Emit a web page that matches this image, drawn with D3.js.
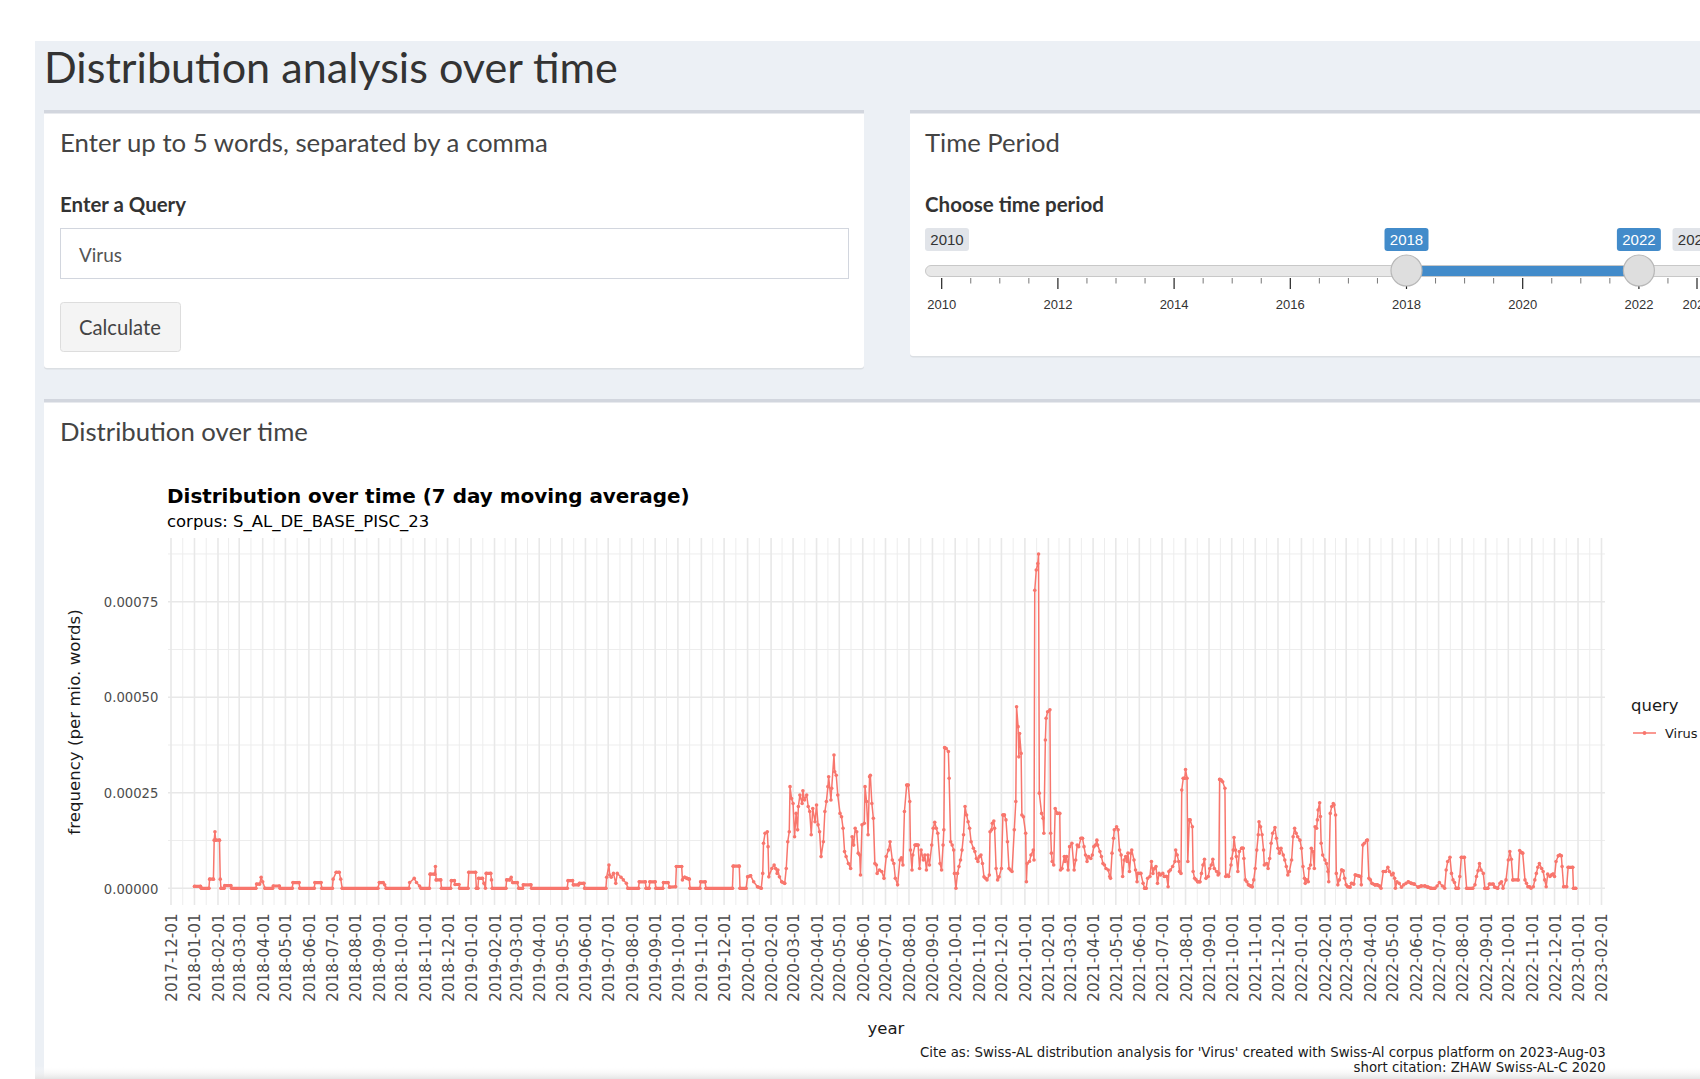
<!DOCTYPE html>
<html>
<head>
<meta charset="utf-8">
<script src="https://cdn.jsdelivr.net/npm/d3@7"></script>
<style>
    html, body { margin: 0; padding: 0; background: #fff; overflow: hidden; }
    svg { display: block; }
</style>
</head>
<body>
<svg id="page" width="1700" height="1079"></svg>
<script>
// ---- data ----
const queryWords = ["Virus"];
const sliderRange = [2010, 2023];
const sliderSelected = [2018, 2022];
const sliderLabelYears = [2010, 2012, 2014, 2016, 2018, 2020, 2022, 2023];
const yTicks = [0, 0.00025, 0.0005, 0.00075];
const yMinorTicks = [0.000125, 0.000375, 0.000625, 0.000875];
const xBreakRange = ["2017-12-01", "2023-02-01"];
const FREQ_UNIT = 1e-5; // series values below are in units of 1e-5

// 7 day moving average of "Virus", [MM-DD, value]
const virus2018 = [
    ["01-01",0.5],["01-09",0.5],["01-10",0],["01-20",0],["01-21",2.4],["01-26",2.4],["01-27",12.6],["01-28",14.8],
    ["01-29",12.6],["02-03",12.6],["02-04",2.4],["02-05",0],["02-09",0],["02-10",0.7],["02-18",0.7],["02-19",0],
    ["03-23",0],["03-24",1.1],["03-28",1.1],["03-30",2.9],["04-01",1.7],["04-04",0],["04-14",0],["04-15",0.6],
    ["04-23",0.6],["04-24",0],["05-10",0],["05-11",1.5],["05-19",1.5],["05-20",0],["06-08",0],["06-09",1.5],
    ["06-17",1.5],["06-18",0],["07-02",0],["07-03",2.4],["07-07",4.2],["07-11",4.2],["07-13",2.4],["07-15",0],
    ["08-31",0],["09-02",1.5],["09-07",1.5],["09-09",0.9],["09-11",0],["10-11",0],["10-12",1.5],["10-18",2.6],
    ["10-21",1.5],["10-25",0.6],["10-27",0],["11-07",0],["11-08",3.7],["11-14",3.7],["11-15",5.7],["11-16",2.2],
    ["11-22",2.2],["11-23",0],["12-05",0],["12-06",2.0],["12-10",2.0],["12-11",1.0],["12-16",1.0],["12-17",0],
    ["12-28",0],["12-29",4.2]
];
const virus2019 = [
    ["01-07",4.2],["01-08",0],["01-10",0],["01-11",2.6],["01-16",2.6],["01-18",1.3],["01-20",0],["01-21",3.9],
    ["01-27",3.9],["01-28",2.2],["01-29",0],["02-16",0],["02-17",2.2],["02-21",2.2],["02-23",2.9],["02-25",1.5],
    ["03-03",1.5],["03-05",0],["03-10",0],["03-11",0.9],["03-21",0.9],["03-22",0],["05-08",0],["05-09",2.0],
    ["05-15",2.0],["05-16",0.9],["05-23",0.9],["05-24",1.3],["05-30",1.3],["05-31",0],["06-28",0],["06-29",2.9],
    ["07-02",6.1],["07-03",3.5],["07-05",2.9],["07-08",3.9],["07-11",1.3],["07-13",3.9],["07-18",2.9],["07-21",2.2],
    ["07-25",1.3],["07-27",0],["08-10",0],["08-11",1.7],["08-19",1.7],["08-20",0],["08-24",0],["08-25",1.7],
    ["09-01",1.7],["09-02",0],["09-11",0],["09-12",1.5],["09-18",1.5],["09-20",0.3],["09-28",0.4],["09-29",5.7],
    ["10-06",5.7],["10-07",2.2],["10-10",2.9],["10-13",2.6],["10-16",2.4],["10-17",0],["10-30",0],["10-31",1.7],
    ["11-06",1.7],["11-07",0],["12-12",0],["12-13",5.8],["12-21",5.8],["12-22",0],["12-30",0]
];
const virus2020 = [
    ["01-01",3.0],["01-05",3.3],["01-09",1.7],["01-14",0.4],["01-19",0],["01-21",3.9],["01-22",11.8],["01-24",14.4],
    ["01-27",14.8],["01-28",10.9],["01-29",3.0],["02-02",5.2],["02-05",6.1],["02-07",5.2],["02-09",3.9],["02-10",4.8],
    ["02-12",3.0],["02-15",1.7],["02-19",1.3],["02-21",5.2],["02-23",12.2],["02-25",14.8],["02-26",26.6],["02-28",23.5],
    ["03-01",22.2],["03-03",13.5],["03-05",19.6],["03-07",15.3],["03-08",21.4],["03-10",24.4],["03-13",22.2],["03-14",25.5],
    ["03-16",23.1],["03-19",24.4],["03-21",21.4],["03-23",20.1],["03-25",14.0],["03-27",20.9],["03-30",17.4],["04-01",21.8],
    ["04-03",16.6],["04-05",14.8],["04-07",8.3],["04-10",12.2],["04-12",20.1],["04-14",22.7],["04-16",26.6],["04-17",29.2],
    ["04-20",23.1],["04-21",26.2],["04-24",34.9],["04-25",30.5],["04-27",29.6],["04-29",24.4],["05-02",19.6],["05-04",18.7],
    ["05-06",15.7],["05-08",9.6],["05-10",8.3],["05-13",6.5],["05-16",5.2],["05-18",13.5],["05-20",11.3],["05-22",15.7],
    ["05-24",14.8],["05-26",9.2],["05-28",8.7],["05-29",3.5],["05-31",16.6],["06-03",17.0],["06-04",26.6],["06-06",22.7],
    ["06-08",14.0],["06-10",29.2],["06-11",29.6],["06-13",22.2],["06-15",18.3],["06-17",6.5],["06-19",6.1],["06-20",3.9],
    ["06-23",4.8],["06-26",4.4],["06-29",2.6],["07-02",8.3],["07-05",10.0],["07-07",12.2],["07-10",7.4],["07-12",6.5],
    ["07-14",2.6],["07-17",0.9],["07-20",7.4],["07-22",8.0],["07-24",6.1],["07-26",20.1],["07-29",27.0],["07-31",27.0],
    ["08-02",22.7],["08-03",10.0],["08-05",4.8],["08-06",8.7],["08-09",11.3],["08-11",11.3],["08-13",11.3],["08-15",5.2],
    ["08-17",10.0],["08-20",7.4],["08-22",8.7],["08-24",4.8],["08-26",8.7],["08-28",6.1],["08-31",11.3],["09-02",15.7],
    ["09-04",17.3],["09-06",15.7],["09-08",14.4],["09-11",6.5],["09-13",4.8],["09-15",11.3],["09-16",15.3],["09-17",36.8],
    ["09-19",36.6],["09-22",35.8],["09-23",28.8],["09-25",12.2],["09-27",11.3],["09-29",10.0],["09-30",3.9],["10-02",0],
    ["10-04",3.9],["10-06",5.7],["10-08",7.4],["10-10",10.0],["10-12",14.0],["10-14",21.4],["10-16",19.2],["10-18",17.4],
    ["10-20",15.7],["10-22",12.2],["10-25",10.5],["10-27",9.6],["10-29",7.8],["10-31",7.0],["11-02",8.3],["11-04",8.7],
    ["11-06",6.5],["11-08",3.0],["11-10",2.6],["11-12",2.2],["11-15",3.5],["11-16",14.8],["11-18",15.3],["11-19",17.0],
    ["11-21",17.6],["11-22",15.7],["11-24",5.2],["11-26",2.2],["11-28",3.0],["12-01",5.2],["12-03",19.2],["12-05",19.2],
    ["12-07",17.9],["12-09",12.2],["12-11",5.2],["12-13",4.8],["12-15",4.4],["12-18",15.3],["12-20",22.7],["12-21",47.5],
    ["12-23",42.3],["12-24",34.4],["12-25",40.5],["12-27",35.3],["12-28",19.2],["12-30",18.7]
];
const virus2021 = [
    ["01-02",14.4],["01-03",1.7],["01-04",6.5],["01-07",7.0],["01-09",8.7],["01-12",10.0],["01-13",7.4],["01-14",78.0],
    ["01-16",83.3],["01-18",85.0],["01-19",87.5],["01-20",24.9],["01-23",19.6],["01-25",18.3],["01-26",14.4],["01-28",38.8],
    ["01-29",44.5],["01-31",46.2],["02-03",46.7],["02-04",14.4],["02-05",9.2],["02-06",7.0],["02-08",6.1],["02-10",20.9],
    ["02-13",19.6],["02-16",19.6],["02-17",4.8],["02-19",5.2],["02-22",8.3],["02-23",7.0],["02-25",8.3],["02-27",4.8],
    ["03-01",10.9],["03-04",11.8],["03-07",4.8],["03-09",7.4],["03-11",11.3],["03-13",10.9],["03-16",13.1],["03-18",13.1],
    ["03-20",10.9],["03-22",8.7],["03-24",7.0],["03-26",8.3],["03-29",7.8],["03-31",8.7],["04-02",10.9],["04-04",11.3],
    ["04-06",12.6],["04-07",11.3],["04-10",9.6],["04-12",8.3],["04-14",6.5],["04-16",6.1],["04-18",5.2],["04-21",4.8],
    ["04-23",3.1],["04-24",2.6],["04-26",9.2],["04-28",13.1],["04-29",15.3],["05-02",16.1],["05-04",15.3],["05-06",10.0],
    ["05-08",8.7],["05-10",3.1],["05-12",7.4],["05-14",8.3],["05-16",7.0],["05-17",9.2],["05-19",4.4],["05-21",9.2],
    ["05-22",10.0],["05-25",7.4],["05-27",4.8],["05-29",1.7],["05-30",3.9],["06-03",3.9],["06-06",1.3],["06-08",0],
    ["06-10",0],["06-12",2.6],["06-15",3.1],["06-17",7.0],["06-19",3.9],["06-21",5.2],["06-23",5.7],["06-25",1.3],
    ["06-27",3.9],["06-29",3.5],["07-02",3.9],["07-04",3.1],["07-07",3.1],["07-09",0.4],["07-10",4.4],["07-12",4.8],
    ["07-15",5.7],["07-18",7.0],["07-19",10.0],["07-21",8.7],["07-23",7.0],["07-24",4.4],["07-26",3.9],["07-27",25.7],
    ["07-29",28.8],["07-31",28.8],["08-01",31.1],["08-03",28.8],["08-04",7.0],["08-06",17.9],["08-07",17.9],["08-10",16.1],
    ["08-11",4.4],["08-13",2.6],["08-15",2.2],["08-17",1.7],["08-20",1.7],["08-22",3.9],["08-24",6.1],["08-26",7.6],
    ["08-28",2.6],["08-31",3.1],["09-02",5.2],["09-04",6.1],["09-06",7.6],["09-08",5.2],["09-11",4.4],["09-13",3.5],
    ["09-14",3.9],["09-15",28.5],["09-17",28.3],["09-19",27.9],["09-22",26.2],["09-23",3.1],["09-25",3.5],["09-27",3.1],
    ["09-30",6.1],["10-01",7.8],["10-03",10.0],["10-04",13.3],["10-06",10.0],["10-07",8.3],["10-09",4.4],["10-11",9.6],
    ["10-14",10.5],["10-16",10.5],["10-17",7.8],["10-19",2.2],["10-21",1.7],["10-23",0.9],["10-26",0.6],["10-28",0.4],
    ["10-30",2.2],["11-01",5.2],["11-03",10.0],["11-05",14.0],["11-06",17.4],["11-08",16.1],["11-10",14.0],["11-12",10.0],
    ["11-13",6.1],["11-16",6.5],["11-18",5.2],["11-20",7.8],["11-22",11.8],["11-24",14.4],["11-27",15.9],["11-29",13.1],
    ["12-01",10.5],["12-03",9.2],["12-05",10.5],["12-08",8.7],["12-10",7.4],["12-12",5.7],["12-14",3.5],["12-16",4.4],
    ["12-19",7.4],["12-21",13.5],["12-23",15.7],["12-25",14.4],["12-27",13.5],["12-30",12.6]
];
const virus2022 = [
    ["01-01",10.5],["01-03",5.7],["01-05",2.6],["01-06",1.3],["01-08",2.2],["01-10",1.7],["01-11",5.2],["01-13",6.1],
    ["01-14",10.5],["01-16",9.6],["01-18",5.2],["01-19",16.1],["01-21",15.7],["01-22",17.9],["01-23",20.5],["01-25",22.4],
    ["01-26",18.8],["01-27",11.8],["01-29",8.7],["02-01",7.4],["02-03",6.5],["02-05",4.4],["02-06",1.7],["02-08",19.6],
    ["02-10",21.4],["02-12",22.2],["02-13",21.8],["02-15",19.2],["02-16",3.9],["02-18",0.9],["02-20",2.2],["02-23",4.8],
    ["02-25",4.6],["02-27",2.6],["03-01",0.9],["03-03",0.4],["03-06",0.3],["03-08",1.3],["03-11",1.1],["03-13",3.5],
    ["03-17",3.3],["03-20",3.1],["03-21",0.9],["03-23",11.3],["03-25",11.8],["03-28",12.5],["03-29",12.6],["03-31",2.6],
    ["04-02",2.2],["04-04",1.3],["04-08",0.9],["04-11",0.9],["04-14",0.6],["04-16",0],["04-19",4.4],["04-22",4.4],
    ["04-25",5.5],["04-27",4.4],["04-30",3.5],["05-02",3.9],["05-04",2.6],["05-05",0],["05-07",1.7],["05-10",1.3],
    ["05-13",0.3],["05-16",0.9],["05-19",1.3],["05-22",1.7],["05-26",1.3],["05-30",1.1],["06-04",0.3],["06-08",0.6],
    ["06-13",0.6],["06-17",0.3],["06-21",0],["06-26",0],["06-29",0.6],["07-02",1.5],["07-06",0.6],["07-09",0],
    ["07-11",4.8],["07-13",7.0],["07-16",8.1],["07-18",3.9],["07-20",2.2],["07-22",1.5],["07-24",0],["07-27",0],
    ["07-29",3.1],["07-31",8.1],["08-04",8.1],["08-07",0],["08-15",0],["08-18",0.9],["08-20",3.1],["08-22",4.6],
    ["08-24",6.5],["08-26",4.8],["08-29",3.9],["08-31",0],["09-04",0],["09-06",1.1],["09-11",1.1],["09-13",0.3],
    ["09-17",0],["09-20",1.3],["09-22",1.7],["09-24",0],["09-28",2.2],["10-01",7.4],["10-03",9.6],["10-05",7.6],
    ["10-07",2.2],["10-14",2.2],["10-16",9.9],["10-18",9.4],["10-20",9.2],["10-23",2.2],["10-25",1.3],["10-27",0.4],
    ["10-29",0.4],["10-31",0],["11-03",0.4],["11-05",2.2],["11-07",3.9],["11-09",5.5],["11-11",6.5],["11-14",5.2],
    ["11-16",4.4],["11-18",2.2],["11-20",0.4],["11-22",3.7],["11-25",3.1],["11-27",3.5],["11-29",3.7],["12-01",3.1],
    ["12-03",7.0],["12-06",8.5],["12-08",8.7],["12-10",8.5],["12-11",5.7],["12-13",0.4],["12-17",0.4],["12-19",5.5],
    ["12-25",5.5],["12-26",0],["12-29",0]
];
const seriesByYear = {2018: virus2018, 2019: virus2019, 2020: virus2020, 2021: virus2021, 2022: virus2022};

const chartTitle = "Distribution over time (7 day moving average)";
const chartSubtitle = "corpus: S_AL_DE_BASE_PISC_23";
const captionLines = [
    "Cite as: Swiss-AL distribution analysis for 'Virus' created with Swiss-Al corpus platform on 2023-Aug-03",
    "short citation: ZHAW Swiss-AL-C 2020"
];

// ---- helpers ----
const UI_FONT = "Lato, 'Open Sans', sans-serif";
const PLOT_FONT = "'DejaVu Sans', sans-serif";
const LINE_COLOR = "#F8766D";
const parseDate = d3.utcParse("%Y-%m-%d");

const svg = d3.select("#page");

// shrink / grow a text's font-size so it spans the given width
function fitWidth(sel, width) {
    let fs = parseFloat(sel.attr("font-size"));
    let len = sel.node().getComputedTextLength();
    if (len > 0) sel.attr("font-size", (fs * width / len).toFixed(2));
    return sel;
}

function addText(parent, x, y, str, size, opts) {
    opts = opts || {};
    let t = parent.append("text")
        .attr("x", x)
        .attr("y", y)
        .attr("font-family", opts.font || UI_FONT)
        .attr("font-size", size)
        .attr("font-weight", opts.weight || "normal")
        .attr("fill", opts.fill || "#333")
        .attr("text-anchor", opts.anchor || "start")
        .text(str);
    if (opts.width) fitWidth(t, opts.width);
    return t;
}

function addBox(x, y, w, h) {
    svg.append("rect")
        .attr("x", x).attr("y", y + 1.5)
        .attr("width", w).attr("height", h)
        .attr("rx", 3).attr("fill", "rgba(0,0,0,0.07)");
    svg.append("rect")
        .attr("x", x).attr("y", y)
        .attr("width", w).attr("height", h)
        .attr("rx", 3).attr("fill", "#fff");
    svg.append("rect")
        .attr("x", x).attr("y", y)
        .attr("width", w).attr("height", 3.5)
        .attr("fill", "#d2d6de");
}

// ---- page frame ----
svg.append("rect").attr("width", 1700).attr("height", 1079).attr("fill", "#fff");
svg.append("rect")
    .attr("x", 35).attr("y", 41)
    .attr("width", 1665).attr("height", 1038)
    .attr("fill", "#ecf0f5");

addText(svg, 44, 83, "Distribution analysis over time", 42, {fill: "#333", width: 574});

// ---- query box ----
addBox(44, 110, 820, 258);
addText(svg, 60, 151.7, "Enter up to 5 words, separated by a comma", 24, {fill: "#444", width: 488});
addText(svg, 60, 211.7, "Enter a Query", 19, {weight: "bold", fill: "#333", width: 126});
svg.append("rect")
    .attr("x", 60.5).attr("y", 228.5)
    .attr("width", 788).attr("height", 50)
    .attr("fill", "#fff").attr("stroke", "#d2d6de");
addText(svg, 79, 261.7, queryWords.join(", "), 20, {fill: "#555", width: 43});
svg.append("rect")
    .attr("x", 60.5).attr("y", 302.5)
    .attr("width", 120).attr("height", 49)
    .attr("rx", 3)
    .attr("fill", "#f4f4f4").attr("stroke", "#ddd");
addText(svg, 79, 335, "Calculate", 20, {fill: "#444", width: 82});

// ---- time period box with range slider ----
addBox(910, 110, 830, 246);
addText(svg, 925, 151.7, "Time Period", 24, {fill: "#444", width: 135});
addText(svg, 925, 211.7, "Choose time period", 19, {weight: "bold", fill: "#333", width: 179});

const yearX = d3.scaleLinear().domain(sliderRange).range([941.7, 1697]);
const slider = svg.append("g").attr("class", "slider");

// track
slider.append("rect")
    .attr("x", 925.5).attr("y", 265.5)
    .attr("width", 800).attr("height", 11)
    .attr("rx", 5.5)
    .attr("fill", "#e8e8e8").attr("stroke", "#c8c8c8");
// selected bar
slider.append("rect")
    .attr("x", yearX(sliderSelected[0])).attr("y", 266)
    .attr("width", yearX(sliderSelected[1]) - yearX(sliderSelected[0]))
    .attr("height", 10)
    .attr("fill", "#428bca");

// grid ticks
let minorYears = d3.range(sliderRange[0], sliderRange[1], 0.5)
    .filter(v => sliderLabelYears.indexOf(v) < 0);
slider.selectAll(".minor")
    .data(minorYears)
    .join("line")
    .attr("x1", d => yearX(d)).attr("x2", d => yearX(d))
    .attr("y1", 278).attr("y2", 283.5)
    .attr("stroke", "#777").attr("stroke-width", 1);
slider.selectAll(".major")
    .data(sliderLabelYears)
    .join("line")
    .attr("x1", d => yearX(d)).attr("x2", d => yearX(d))
    .attr("y1", 278).attr("y2", 289)
    .attr("stroke", "#222").attr("stroke-width", 1.2);
slider.selectAll(".gridlab")
    .data(sliderLabelYears)
    .join("text")
    .attr("x", d => yearX(d))
    .attr("y", 309)
    .attr("text-anchor", "middle")
    .attr("font-family", "'Liberation Sans', Arial, sans-serif")
    .attr("font-size", 13)
    .attr("fill", "#333")
    .text(d => d);

// min / max / from / to labels
function sliderLabel(cx, x0, text, selected) {
    let w = 44;
    let left = x0 != null ? x0 : cx - w / 2;
    slider.append("rect")
        .attr("x", left).attr("y", 228)
        .attr("width", w).attr("height", 23)
        .attr("rx", 3)
        .attr("fill", selected ? "#428bca" : "#e1e4e9");
    slider.append("text")
        .attr("x", left + w / 2).attr("y", 244.5)
        .attr("text-anchor", "middle")
        .attr("font-family", "'Liberation Sans', Arial, sans-serif")
        .attr("font-size", 15)
        .attr("fill", selected ? "#fff" : "#333")
        .text(text);
}
sliderLabel(null, 925, sliderRange[0], false);
sliderLabel(null, 1672.5, sliderRange[1], false);
sliderSelected.forEach(v => sliderLabel(yearX(v), null, v, true));

// handles
slider.selectAll(".handle")
    .data(sliderSelected)
    .join("circle")
    .attr("cx", d => yearX(d)).attr("cy", 270.5)
    .attr("r", 15.5)
    .attr("fill", "#dedede").attr("stroke", "#b8b8b8").attr("stroke-width", 1.2);

// ---- distribution box ----
addBox(44, 399, 1700, 700);
addText(svg, 60, 441, "Distribution over time", 24, {fill: "#444", width: 248});

// ---- chart ----
const panel = {left: 168, right: 1605, top: 538, bottom: 905};

let series = [];
Object.keys(seriesByYear).forEach(year => {
    seriesByYear[year].forEach(p => {
        series.push({date: parseDate(year + "-" + p[0]), value: p[1] * FREQ_UNIT});
    });
});

const x = d3.scaleUtc()
    .domain(xBreakRange.map(parseDate))
    .range([171, 1601.5]);
const y = d3.scaleLinear()
    .domain([0, 0.00075])
    .range([888.3, 601.7]);

const chart = svg.append("g").attr("class", "chart");

// grid
const monthBreaks = d3.utcMonth.range(x.domain()[0], d3.utcDay.offset(x.domain()[1], 1));
const monthMinor = d3.pairs(monthBreaks).map(([a, b]) => new Date((+a + +b) / 2));
const grid = chart.append("g").attr("class", "grid");
grid.selectAll(".hminor")
    .data(yMinorTicks)
    .join("line")
    .attr("x1", panel.left).attr("x2", panel.right)
    .attr("y1", d => y(d)).attr("y2", d => y(d))
    .attr("stroke", "#ededed").attr("stroke-width", 1);
grid.selectAll(".vminor")
    .data(monthMinor)
    .join("line")
    .attr("x1", d => x(d)).attr("x2", d => x(d))
    .attr("y1", panel.top).attr("y2", panel.bottom)
    .attr("stroke", "#ededed").attr("stroke-width", 1);
grid.selectAll(".hmajor")
    .data(yTicks)
    .join("line")
    .attr("x1", panel.left).attr("x2", panel.right)
    .attr("y1", d => y(d)).attr("y2", d => y(d))
    .attr("stroke", "#e8e8e8").attr("stroke-width", 1.6);
grid.selectAll(".vmajor")
    .data(monthBreaks)
    .join("line")
    .attr("x1", d => x(d)).attr("x2", d => x(d))
    .attr("y1", panel.top).attr("y2", panel.bottom)
    .attr("stroke", "#e8e8e8").attr("stroke-width", 1.6);

// line, flat stretches (dense daily points) and points
const line = d3.line()
    .x(d => x(d.date))
    .y(d => y(d.value));
chart.append("path")
    .datum(series)
    .attr("d", line)
    .attr("fill", "none")
    .attr("stroke", LINE_COLOR)
    .attr("stroke-width", 1.5)
    .attr("stroke-linejoin", "round");
let flats = d3.pairs(series).filter(([a, b]) =>
    Math.abs(y(b.value) - y(a.value)) <= 0.6 * (x(b.date) - x(a.date)));
chart.selectAll(".flat")
    .data(flats)
    .join("line")
    .attr("x1", d => x(d[0].date)).attr("y1", d => y(d[0].value))
    .attr("x2", d => x(d[1].date)).attr("y2", d => y(d[1].value))
    .attr("stroke", LINE_COLOR)
    .attr("stroke-width", 3.2)
    .attr("stroke-linecap", "round");
chart.selectAll(".pt")
    .data(series)
    .join("circle")
    .attr("cx", d => x(d.date))
    .attr("cy", d => y(d.value))
    .attr("r", 1.8)
    .attr("fill", LINE_COLOR);

// y axis
const yAxis = chart.append("g")
    .attr("transform", "translate(158.4,0)")
    .call(d3.axisLeft(y).tickValues(yTicks).tickFormat(d3.format(".5f")).tickSize(0).tickPadding(0));
yAxis.select(".domain").remove();
yAxis.selectAll("text")
    .attr("font-family", PLOT_FONT)
    .attr("font-size", 13)
    .attr("fill", "#4d4d4d")
    .attr("dy", "0.36em");
let ySize = parseFloat(fitWidth(yAxis.selectAll("text").filter(d => d === 0.00075), 54.6).attr("font-size"));
yAxis.selectAll("text").attr("font-size", ySize);

// x axis, vertical labels
const xAxis = chart.append("g")
    .attr("transform", "translate(0,913.3)")
    .call(d3.axisBottom(x).tickValues(monthBreaks).tickFormat(d3.utcFormat("%Y-%m-%d")).tickSize(0).tickPadding(0));
xAxis.select(".domain").remove();
xAxis.selectAll("text")
    .attr("font-family", PLOT_FONT)
    .attr("font-size", 15)
    .attr("fill", "#4d4d4d")
    .attr("transform", "rotate(-90)")
    .attr("text-anchor", "end")
    .attr("x", 0)
    .attr("y", 0)
    .attr("dy", "0.36em");
let xSize = parseFloat(fitWidth(xAxis.select("text"), 88.5).attr("font-size"));
xAxis.selectAll("text").attr("font-size", xSize);

// titles
addText(chart, 167, 502.5, chartTitle, 20, {font: PLOT_FONT, weight: "bold", fill: "#000", width: 522.6});
addText(chart, 167, 526.7, chartSubtitle, 16, {font: PLOT_FONT, fill: "#000", width: 262.4});
addText(chart, 0, 0, "frequency (per mio. words)", 16, {font: PLOT_FONT, fill: "#1a1a1a", anchor: "middle", width: 225.5})
    .attr("transform", "translate(80,722) rotate(-90)");
addText(chart, 886, 1034, "year", 16.5, {font: PLOT_FONT, fill: "#1a1a1a", anchor: "middle"});

let cap1 = addText(chart, 1605.7, 1056.7, captionLines[0], 12.5, {font: PLOT_FONT, fill: "#1a1a1a", anchor: "end", width: 686});
addText(chart, 1605.7, 1071.7, captionLines[1], parseFloat(cap1.attr("font-size")), {font: PLOT_FONT, fill: "#1a1a1a", anchor: "end"});

// legend
const legend = chart.append("g").attr("class", "legend");
addText(legend, 1631, 711, "query", 16.5, {font: PLOT_FONT, fill: "#1a1a1a"});
legend.append("line")
    .attr("x1", 1633).attr("x2", 1656)
    .attr("y1", 733).attr("y2", 733)
    .attr("stroke", LINE_COLOR).attr("stroke-width", 1.5);
legend.append("circle")
    .attr("cx", 1644.5).attr("cy", 733).attr("r", 1.9)
    .attr("fill", LINE_COLOR);
addText(legend, 1665, 737.7, queryWords[0], 13, {font: PLOT_FONT, fill: "#1a1a1a"});

// soft shade at the bottom edge of the screenshot, below the caption
const defs = svg.append("defs");
const fade = defs.append("linearGradient").attr("id", "fade").attr("x1", 0).attr("x2", 0).attr("y1", 0).attr("y2", 1);
fade.append("stop").attr("offset", "0%").attr("stop-color", "#fff").attr("stop-opacity", 0);
fade.append("stop").attr("offset", "100%").attr("stop-color", "#e4e4e4").attr("stop-opacity", 1);
svg.insert("rect", ".chart")
    .attr("x", 35).attr("y", 1066)
    .attr("width", 1665).attr("height", 13)
    .attr("fill", "url(#fade)");
</script>
</body>
</html>
